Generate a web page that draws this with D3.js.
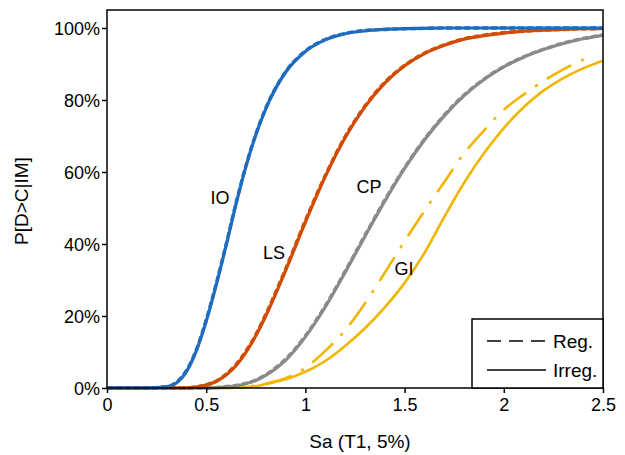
<!DOCTYPE html>
<html>
<head>
<meta charset="utf-8">
<script src="https://cdn.jsdelivr.net/npm/d3@7"></script>
<style>
  body { margin: 0; background: #fff; }
  text { font-family: "Liberation Sans", Arial, sans-serif; }
</style>
</head>
<body>
<div id="chart"></div>
<script>
// Sa grid and exceedance probabilities
var saGrid = [0, 0.2, 0.3, 0.35, 0.4, 0.45, 0.5, 0.55, 0.6, 0.65, 0.7, 0.75, 0.8, 0.9, 1.0, 1.1, 1.2, 1.3, 1.4, 1.5, 1.6, 1.7, 1.8, 1.9, 2.0, 2.1, 2.2, 2.3, 2.4, 2.45, 2.5];

var ioIrreg = [0, 0, 0.003, 0.014, 0.045, 0.103, 0.185, 0.285, 0.395, 0.51, 0.615, 0.703, 0.775, 0.877, 0.935, 0.967, 0.984, 0.992, 0.996, 0.998, 0.999, 1, 1, 1, 1, 1, 1, 1, 1, 1, 1];
var ioReg   = [0, 0, 0.004, 0.016, 0.048, 0.106, 0.189, 0.289, 0.398, 0.513, 0.617, 0.705, 0.777, 0.878, 0.936, 0.968, 0.985, 0.993, 0.996, 0.998, 0.999, 1, 1, 1, 1, 1, 1, 1, 1, 1, 1];
var lsIrreg = [0, 0, 0, 0, 0, 0.003, 0.008, 0.018, 0.036, 0.062, 0.099, 0.145, 0.2, 0.326, 0.461, 0.587, 0.695, 0.781, 0.847, 0.895, 0.929, 0.952, 0.969, 0.979, 0.986, 0.991, 0.994, 0.996, 0.998, 0.998, 0.999];
var lsReg   = [0, 0, 0, 0, 0, 0.003, 0.009, 0.019, 0.038, 0.065, 0.102, 0.148, 0.204, 0.33, 0.465, 0.59, 0.698, 0.783, 0.849, 0.896, 0.93, 0.953, 0.97, 0.98, 0.987, 0.991, 0.994, 0.996, 0.998, 0.998, 0.999];
var cpIrreg = [0, 0, 0, 0, 0, 0, 0, 0.001, 0.003, 0.006, 0.012, 0.021, 0.035, 0.077, 0.142, 0.225, 0.321, 0.421, 0.519, 0.61, 0.689, 0.756, 0.812, 0.857, 0.892, 0.919, 0.94, 0.957, 0.97, 0.975, 0.98];
var cpReg   = [0, 0, 0, 0, 0, 0, 0, 0.001, 0.004, 0.007, 0.013, 0.022, 0.037, 0.08, 0.145, 0.228, 0.324, 0.424, 0.522, 0.612, 0.691, 0.758, 0.814, 0.858, 0.893, 0.92, 0.941, 0.958, 0.971, 0.976, 0.981];
var giIrreg = [0, 0, 0, 0, 0, 0, 0, 0, 0, 0.001, 0.002, 0.005, 0.011, 0.024, 0.045, 0.075, 0.117, 0.166, 0.224, 0.292, 0.375, 0.475, 0.57, 0.652, 0.722, 0.78, 0.826, 0.861, 0.888, 0.899, 0.909];
var giReg   = [0, 0, 0, 0, 0, 0, 0, 0, 0, 0.001, 0.004, 0.007, 0.012, 0.027, 0.056, 0.103, 0.16, 0.235, 0.32, 0.408, 0.492, 0.572, 0.652, 0.715, 0.773, 0.815, 0.853, 0.885, 0.912, 0.925, null];

var curveNames = ["IO", "LS", "CP", "GI"];
var curveColors = ["#1f6cbf", "#d24b02", "#8a8a8a", "#f2b600"];
var xTicks = [0, 0.5, 1, 1.5, 2, 2.5];
var yTicks = [0, 0.2, 0.4, 0.6, 0.8, 1];

var W = 625, H = 455;
var svg = d3.select("#chart").append("svg")
    .attr("width", W)
    .attr("height", H);

var xScale = d3.scaleLinear().domain([0, 2.5]).range([107, 603]),
    yScale = d3.scaleLinear().domain([0, 1.05]).range([388, 10]);

var line = d3.line()
    .defined(function(d) { return d[1] != null; })
    .x(function(d) { return xScale(d[0]); })
    .y(function(d) { return yScale(d[1]); })
    .curve(d3.curveMonotoneX);

function pts(arr) { return saGrid.map(function(s, i) { return [s, arr[i]]; }); }

var series = [
  { name: "IO", reg: ioReg, irr: ioIrreg },
  { name: "LS", reg: lsReg, irr: lsIrreg },
  { name: "CP", reg: cpReg, irr: cpIrreg },
  { name: "GI", reg: giReg, irr: giIrreg }
];

var g = svg.append("g");

// curves (GI first so the others sit on top)
series.slice().reverse().forEach(function(s) {
    var col = curveColors[curveNames.indexOf(s.name)];
    var isGI = s.name == "GI";
    g.append("path")
        .attr("d", line(pts(s.irr)))
        .attr("fill", "none")
        .attr("stroke", col)
        .attr("stroke-width", isGI ? 2.6 : 3.2);
    g.append("path")
        .attr("d", line(pts(s.reg)))
        .attr("fill", "none")
        .attr("stroke", col)
        .attr("stroke-width", isGI ? 2.6 : 3.4)
        .attr("stroke-linecap", isGI ? "round" : "butt")
        .attr("stroke-dasharray", isGI ? "26,13,1,13" : "6,3");
});

// frame
svg.append("rect")
    .attr("x", 107).attr("y", 10)
    .attr("width", 603 - 107).attr("height", 388 - 10)
    .attr("fill", "none")
    .attr("stroke", "#000")
    .attr("stroke-width", 1.5);

// axes
var xAxis = svg.append("g")
    .attr("transform", "translate(0,388)")
    .call(d3.axisBottom(xScale).tickValues(xTicks).tickSize(5).tickPadding(5)
        .tickFormat(function(d) { return d; }));
var yAxis = svg.append("g")
    .attr("transform", "translate(107,0)")
    .call(d3.axisLeft(yScale).tickValues(yTicks).tickSize(5).tickPadding(2)
        .tickFormat(d3.format(".0%")));
[xAxis, yAxis].forEach(function(a) {
    a.select(".domain").remove();
    a.selectAll(".tick line").attr("stroke", "#000").attr("stroke-width", 1.5);
    a.selectAll(".tick text")
        .attr("fill", "#000")
        .style("font-size", "18px")
        .style("font-family", "'Liberation Sans', Arial, sans-serif");
});
yAxis.selectAll(".tick text").attr("dy", "0.35em");

// axis titles
svg.append("text")
    .attr("x", 360).attr("y", 448)
    .attr("text-anchor", "middle")
    .style("font-size", "19px")
    .text("Sa (T1, 5%)");
svg.append("text")
    .attr("transform", "translate(28,201) rotate(-90)")
    .attr("text-anchor", "middle")
    .style("font-size", "19px")
    .text("P[D>C|IM]");

// curve labels
var labelPos = [[220, 198], [274, 253], [369, 187], [404, 269]];
curveNames.forEach(function(n, i) {
    svg.append("text")
        .attr("x", labelPos[i][0]).attr("y", labelPos[i][1])
        .attr("text-anchor", "middle")
        .attr("dy", "0.35em")
        .style("font-size", "18px")
        .text(n);
});

// legend
var leg = svg.append("g");
leg.append("rect")
    .attr("x", 472).attr("y", 319)
    .attr("width", 603 - 472).attr("height", 388 - 319)
    .attr("fill", "#fff")
    .attr("stroke", "#000")
    .attr("stroke-width", 1.5);
var legendItems = ["Reg.", "Irreg."];
legendItems.forEach(function(t, i) {
    var y = 341 + i * 29;
    leg.append("line")
        .attr("x1", 487).attr("x2", 546)
        .attr("y1", y).attr("y2", y)
        .attr("stroke", "#000")
        .attr("stroke-width", 1.5)
        .attr("stroke-dasharray", i == 0 ? "14,8" : null);
    leg.append("text")
        .attr("x", 553).attr("y", y)
        .attr("dy", "0.35em")
        .style("font-size", "19px")
        .text(t);
});
</script>
</body>
</html>
